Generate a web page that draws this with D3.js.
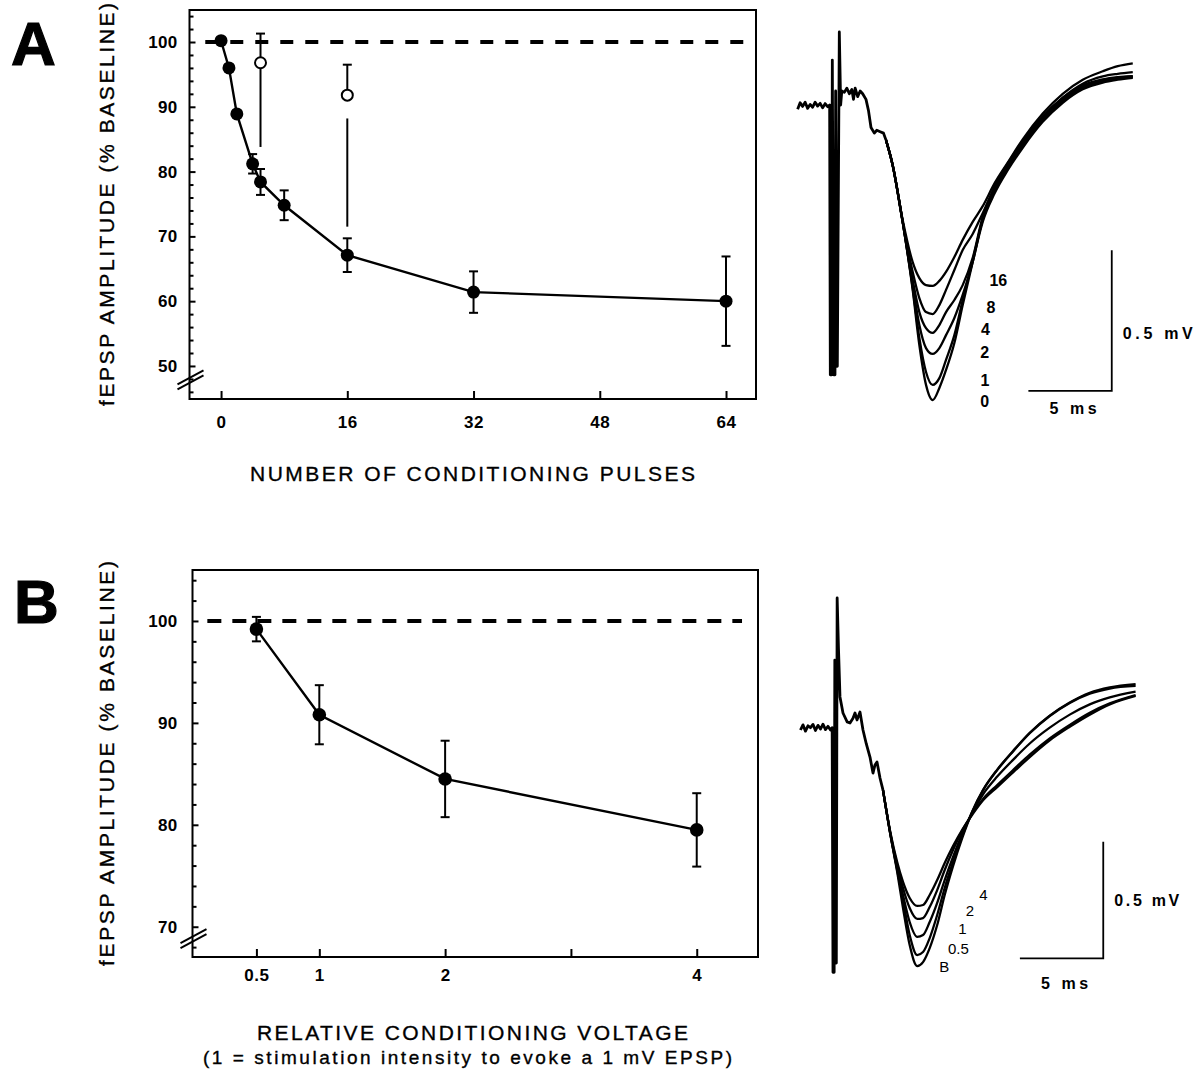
<!DOCTYPE html>
<html><head><meta charset="utf-8">
<script src="https://cdn.jsdelivr.net/npm/d3@7"></script>
<style>
body{margin:0;background:#fff;}
svg{display:block;}
text{font-family:"Liberation Sans", Arial, Helvetica, sans-serif; fill:#000;}
</style></head><body>
<svg id="chart" width="1199" height="1073"></svg>
<script>
// ---------- Panel A data ----------
const pulses     = [0, 1, 2, 4, 5, 8, 16, 32, 64];
const ampA       = [100.2, 96.0, 88.9, 81.2, 78.4, 74.8, 67.1, 61.4, 60.0];
const semA       = [0, 0, 0, 1.5, 2.0, 2.3, 2.6, 3.2, 6.9];
const openPulses = [5, 16];
const openAmp    = [96.8, 91.8];
const openErrUp  = [4.5, 4.7];
const dropTop    = [96.8, 88.2];
const dropBottom = [83.8, 71.5];
const xTicksA    = [0, 16, 32, 48, 64];
const yTicksA    = [50, 60, 70, 80, 90, 100];
const yMinorA    = [46, 48, 52, 54, 56, 58, 62, 64, 66, 68, 72, 74, 76, 78, 82, 84, 86, 88, 92, 94, 96, 98, 102, 104];

// ---------- Panel B data ----------
const voltage    = [0.5, 1, 2, 4];
const ampB       = [99.2, 90.8, 84.5, 79.5];
const semB       = [1.2, 2.9, 3.75, 3.6];
const xTicksB    = [0.5, 1, 2, 3, 4];
const xTickLabB  = ["0.5", "1", "2", "", "4"];
const yTicksB    = [70, 80, 90, 100];
const yMinorB    = [68, 72, 74, 76, 78, 82, 84, 86, 88, 92, 94, 96, 98, 102, 104];

// ---------- Traces A (time ms, voltage mV) ----------
const preA_t = [-2.3, -2.15, -2.0, -1.85, -1.7, -1.55, -1.4, -1.25, -1.1, -0.95, -0.8, -0.65, -0.5, -0.38, -0.34, -0.26, -0.22, -0.14, -0.06, -0.02, 0.02, 0.08, 0.2, 0.28, 0.35, 0.5, 0.65, 0.8, 0.95, 1.05, 1.15, 1.3, 1.45, 1.6, 1.8, 1.95, 2.1, 2.3, 2.45, 2.65, 2.85, 3.0];
const preA_v = [-0.015, 0.008, -0.005, 0.01, -0.012, 0.002, -0.008, 0.01, -0.004, 0.006, -0.01, 0.005, -0.006, 0.0, -0.96, -0.96, 0.16, -0.96, -0.96, 0.05, -0.93, -0.93, 0.26, 0.0, 0.05, 0.045, 0.06, 0.04, 0.055, 0.02, 0.06, 0.03, 0.05, 0.04, 0.02, -0.02, -0.08, -0.10, -0.09, -0.095, -0.10, -0.125];
const traceTimesA = [3.0, 3.4, 4.0, 4.6, 5.0, 5.4, 5.8, 6.2, 6.6, 7.1, 7.6, 8.2, 8.8, 9.5, 10.3, 11.2, 12.4, 13.6, 14.8, 16.0, 16.9, 17.8];
const traceA0  = [-0.125, -0.214, -0.416, -0.658, -0.854, -0.996, -1.050, -1.007, -0.943, -0.847, -0.712, -0.559, -0.416, -0.316, -0.232, -0.152, -0.060, 0.008, 0.056, 0.080, 0.090, 0.097];
const traceA1  = [-0.125, -0.214, -0.416, -0.651, -0.829, -0.950, -0.996, -0.972, -0.907, -0.819, -0.694, -0.552, -0.409, -0.306, -0.222, -0.142, -0.052, 0.014, 0.060, 0.084, 0.093, 0.100];
const traceA2  = [-0.125, -0.214, -0.416, -0.641, -0.783, -0.865, -0.886, -0.865, -0.819, -0.758, -0.676, -0.559, -0.405, -0.300, -0.216, -0.136, -0.046, 0.020, 0.066, 0.088, 0.097, 0.102];
const traceA4  = [-0.125, -0.214, -0.416, -0.623, -0.737, -0.794, -0.811, -0.783, -0.737, -0.694, -0.641, -0.544, -0.398, -0.292, -0.208, -0.128, -0.040, 0.025, 0.070, 0.091, 0.099, 0.103];
const traceA8  = [-0.125, -0.214, -0.416, -0.594, -0.687, -0.737, -0.744, -0.712, -0.658, -0.587, -0.516, -0.459, -0.385, -0.296, -0.214, -0.135, -0.044, 0.026, 0.076, 0.102, 0.111, 0.117];
const traceA16 = [-0.125, -0.214, -0.409, -0.559, -0.616, -0.641, -0.644, -0.626, -0.594, -0.541, -0.480, -0.416, -0.360, -0.280, -0.205, -0.122, -0.030, 0.040, 0.090, 0.120, 0.138, 0.148];
const traceLabelsA = ["16", "8", "4", "2", "1", "0"];
const traceLabelT_A = [9.74, 9.30, 8.96, 8.92, 8.94, 8.92];
const traceLabelV_A = [-0.625, -0.721, -0.799, -0.881, -0.981, -1.053];

// ---------- Traces B ----------
const preB_t = [-2.1, -1.95, -1.8, -1.65, -1.5, -1.35, -1.2, -1.05, -0.9, -0.75, -0.6, -0.45, -0.3, -0.2, -0.15, -0.08, -0.04, 0.0, 0.05, 0.1, 0.18, 0.27, 0.45, 0.7, 0.87, 1.05, 1.17, 1.29, 1.47, 1.65, 1.85, 2.07, 2.25, 2.37, 2.49, 2.67, 2.85];
const preB_v = [0.0, 0.022, -0.005, 0.018, 0.01, 0.024, -0.002, 0.02, 0.004, 0.025, 0.002, 0.016, 0.0, 0.01, -1.04, -1.04, 0.3, -1.0, -1.0, 0.567, 0.35, 0.142, 0.073, 0.035, 0.03, 0.05, 0.073, 0.043, 0.077, 0.0, -0.06, -0.116, -0.185, -0.15, -0.137, -0.206, -0.258];
const traceTimesB = [2.85, 3.3, 3.7, 4.05, 4.45, 4.9, 5.25, 5.65, 6.1, 6.55, 7.05, 7.6, 8.2, 8.85, 9.7, 10.65, 11.65, 12.85, 14.05, 15.25, 16.45, 18.0];
const traceBB  = [-0.258, -0.451, -0.609, -0.764, -0.923, -1.013, -0.996, -0.936, -0.837, -0.708, -0.584, -0.464, -0.352, -0.258, -0.170, -0.090, -0.012, 0.062, 0.118, 0.160, 0.183, 0.197];
const traceB05 = [-0.258, -0.451, -0.601, -0.730, -0.880, -0.966, -0.953, -0.893, -0.794, -0.678, -0.567, -0.455, -0.350, -0.258, -0.172, -0.092, -0.014, 0.060, 0.116, 0.156, 0.178, 0.189];
const traceB1  = [-0.258, -0.451, -0.592, -0.708, -0.824, -0.888, -0.880, -0.824, -0.742, -0.644, -0.545, -0.446, -0.356, -0.276, -0.200, -0.128, -0.058, 0.010, 0.066, 0.110, 0.140, 0.165];
const traceB2  = [-0.258, -0.446, -0.579, -0.678, -0.764, -0.811, -0.807, -0.760, -0.687, -0.601, -0.515, -0.432, -0.360, -0.296, -0.236, -0.172, -0.106, -0.036, 0.022, 0.074, 0.114, 0.150];
const traceB4  = [-0.258, -0.442, -0.567, -0.652, -0.721, -0.755, -0.751, -0.708, -0.644, -0.571, -0.498, -0.428, -0.364, -0.302, -0.245, -0.182, -0.116, -0.044, 0.014, 0.066, 0.110, 0.146];
const traceLabelsB = ["4", "2", "1", "0.5", "B"];
const traceLabelT_B = [8.87, 8.07, 7.62, 7.37, 6.52];
const traceLabelV_B = [-0.708, -0.773, -0.851, -0.937, -1.016];

// ---------- Drawing ----------
const svg = d3.select("#chart");
svg.append("rect").attr("width", 1199).attr("height", 1073).attr("fill", "#fff");

const FONT = '"Liberation Sans", Arial, Helvetica, sans-serif';

function plotPanel(c) {
  const x = d3.scaleLinear().domain(c.xDomain).range([c.left, c.right]);
  const y = d3.scaleLinear().domain(c.yDomain).range([c.bottom, c.top]);
  const g = svg.append("g");

  const ym = g.append("g").attr("transform", `translate(${c.left},0)`)
    .call(d3.axisLeft(y).tickValues(c.yMinor).tickSize(-4).tickFormat(""));
  ym.select(".domain").remove();
  ym.selectAll("line").attr("stroke-width", 2);

  const ya = g.append("g").attr("transform", `translate(${c.left},0)`)
    .call(d3.axisLeft(y).tickValues(c.yTicks).tickSize(-6).tickPadding(c.yPad).tickFormat(d3.format("d")));
  ya.select(".domain").remove();
  ya.selectAll("line").attr("stroke-width", 2);
  ya.selectAll("text").attr("font-family", FONT).attr("font-size", 17).attr("font-weight", "bold").attr("letter-spacing", 0.3);

  const xa = g.append("g").attr("transform", `translate(0,${c.bottom})`)
    .call(d3.axisBottom(x).tickValues(c.xTicks).tickSize(-8).tickPadding(c.xPad)
      .tickFormat((d, i) => c.xTickLabels[i]));
  xa.select(".domain").remove();
  xa.selectAll("line").attr("stroke-width", 2);
  xa.selectAll("text").attr("font-family", FONT).attr("font-size", 17).attr("font-weight", "bold").attr("letter-spacing", 0.5);

  g.append("rect").attr("x", c.left).attr("y", c.top)
    .attr("width", c.right - c.left).attr("height", c.bottom - c.top)
    .attr("fill", "none").attr("stroke", "#000").attr("stroke-width", 2);

  const by = y(c.breakAt);
  [0, -5].forEach(off => {
    g.append("line").attr("x1", c.left - 12).attr("y1", by + 6 + off)
      .attr("x2", c.left + 14).attr("y2", by - 8 + off)
      .attr("stroke", "#000").attr("stroke-width", 2);
  });

  g.append("line").attr("x1", x(c.ref[0])).attr("x2", x(c.ref[1]))
    .attr("y1", y(100)).attr("y2", y(100))
    .attr("stroke", "#000").attr("stroke-width", 4).attr("stroke-dasharray", c.dash);

  const pts = c.xs.map((d, i) => [d, c.ys[i]]);
  g.append("path").datum(pts)
    .attr("d", d3.line().x(d => x(d[0])).y(d => y(d[1])))
    .attr("fill", "none").attr("stroke", "#000").attr("stroke-width", 2.4);

  c.xs.forEach((d, i) => {
    const e = c.errs[i];
    if (!e) return;
    const cx = x(d), y1 = y(c.ys[i] + e), y2 = y(c.ys[i] - e);
    g.append("line").attr("x1", cx).attr("x2", cx).attr("y1", y1).attr("y2", y2).attr("stroke", "#000").attr("stroke-width", 2);
    [y1, y2].forEach(yy => g.append("line").attr("x1", cx - 4.5).attr("x2", cx + 4.5).attr("y1", yy).attr("y2", yy).attr("stroke", "#000").attr("stroke-width", 2));
  });

  if (c.openX) {
    c.openX.forEach((d, i) => {
      const cx = x(d);
      g.append("line").attr("x1", cx).attr("x2", cx).attr("y1", y(dropTop[i])).attr("y2", y(dropBottom[i])).attr("stroke", "#000").attr("stroke-width", 2);
      const yt = y(c.openY[i] + c.openUp[i]);
      g.append("line").attr("x1", cx).attr("x2", cx).attr("y1", y(c.openY[i])).attr("y2", yt).attr("stroke", "#000").attr("stroke-width", 2);
      g.append("line").attr("x1", cx - 4.5).attr("x2", cx + 4.5).attr("y1", yt).attr("y2", yt).attr("stroke", "#000").attr("stroke-width", 2);
      g.append("circle").attr("cx", cx).attr("cy", y(c.openY[i])).attr("r", 5.5)
        .attr("fill", "#fff").attr("stroke", "#000").attr("stroke-width", 2);
    });
  }

  g.selectAll(null).data(pts).enter().append("circle")
    .attr("cx", d => x(d[0])).attr("cy", d => y(d[1])).attr("r", c.r).attr("fill", "#000");

  g.append("text").attr("transform", `translate(${c.yLabX},${(c.top + c.bottom) / 2}) rotate(-90)`)
    .attr("text-anchor", "middle").attr("font-size", 21)
    .attr("stroke", "#000").attr("stroke-width", 0.35)
    .attr("textLength", c.yLabLen).attr("lengthAdjust", "spacing")
    .text("fEPSP AMPLITUDE (% BASELINE)");
}

plotPanel({
  left: 189.5, right: 756, top: 10, bottom: 399,
  xDomain: [-4, 67.8], yDomain: [44.9, 104.94],
  xTicks: xTicksA, xTickLabels: xTicksA.map(String), yTicks: yTicksA, yMinor: yMinorA,
  yPad: 12, xPad: 17, breakAt: 47.3, ref: [-2, 66.6], dash: "13,12",
  xs: pulses, ys: ampA, errs: semA, r: 6.5,
  openX: openPulses, openY: openAmp, openUp: openErrUp,
  yLabX: 114, yLabLen: 403
});
plotPanel({
  left: 192.5, right: 758, top: 570, bottom: 957,
  xDomain: [-0.008, 4.487], yDomain: [67.03, 105.0],
  xTicks: xTicksB, xTickLabels: xTickLabB, yTicks: yTicksB, yMinor: yMinorB,
  yPad: 15, xPad: 12, breakAt: 68.5, ref: [0.11, 4.36], dash: "14,11",
  xs: voltage, ys: ampB, errs: semB, r: 6.8,
  yLabX: 114, yLabLen: 405
});

function title(txt, cx, by, size, len) {
  svg.append("text").attr("x", cx).attr("y", by).attr("text-anchor", "middle")
    .attr("font-size", size).attr("stroke", "#000").attr("stroke-width", 0.35)
    .attr("textLength", len).attr("lengthAdjust", "spacing").text(txt);
}
title("NUMBER OF CONDITIONING PULSES", 472.5, 480.5, 21, 445);
title("RELATIVE CONDITIONING VOLTAGE", 472.5, 1040, 21, 431);
title("(1 = stimulation intensity to evoke a 1 mV EPSP)", 467.5, 1064, 19, 529);

svg.append("text").attr("x", 11).attr("y", 65).attr("font-size", 62).attr("font-weight", "bold")
  .attr("stroke", "#000").attr("stroke-width", 1.2).text("A");
svg.append("text").attr("x", 14).attr("y", 623).attr("font-size", 62).attr("font-weight", "bold")
  .attr("stroke", "#000").attr("stroke-width", 1.2).text("B");

function tracePanel(c) {
  const x = d3.scaleLinear().domain([-2.5, 18]).range(c.xRange);
  const y = d3.scaleLinear().domain([-1.1, 0.3]).range(c.yRange);
  const g = svg.append("g");
  const pre = c.preT.map((t, i) => [t, c.preV[i]]);
  g.append("path").datum(pre).attr("d", d3.line().x(d => x(d[0])).y(d => y(d[1])))
    .attr("fill", "none").attr("stroke", "#000").attr("stroke-width", 2.8).attr("stroke-linejoin", "round");
  const ln = d3.line().curve(d3.curveMonotoneX).x(d => x(d[0])).y(d => y(d[1]));
  c.traces.forEach(tr => {
    const p = c.times.map((t, i) => [t, tr[i]]);
    g.append("path").datum(p).attr("d", ln).attr("fill", "none").attr("stroke", "#000")
      .attr("stroke-width", 2.3).attr("stroke-linejoin", "round");
  });
  c.labels.forEach((l, i) => {
    g.append("text").attr("x", x(c.labT[i])).attr("y", y(c.labV[i])).attr("dy", "0.36em")
      .attr("text-anchor", "middle").attr("font-size", c.labSize).attr("font-weight", c.labWeight).text(l);
  });
  const bx = x(c.bar[0] + 5), bx0 = x(c.bar[0]), by = y(c.bar[1]), by1 = y(c.bar[1] + 0.5);
  g.append("path").attr("d", `M${bx0},${by}H${bx}V${by1}`).attr("fill", "none").attr("stroke", "#000").attr("stroke-width", 1.8);
  g.append("text").attr("x", bx + 11).attr("y", by - 58).attr("dy", "0.36em").attr("font-size", 16).attr("font-weight", "bold")
    .attr("textLength", c.mvLen).attr("lengthAdjust", "spacing").text("0.5 mV");
  g.append("text").attr("x", (bx0 + bx) / 2 + 3).attr("y", by + c.msOff).attr("dy", "0.36em").attr("text-anchor", "middle")
    .attr("font-size", 16).attr("font-weight", "bold").attr("textLength", 47).attr("lengthAdjust", "spacing").text("5 ms");
}

tracePanel({
  xRange: [794.3, 1136.1], yRange: [414.1, 20.7],
  preT: preA_t, preV: preA_v, times: traceTimesA,
  traces: [traceA0, traceA1, traceA2, traceA4, traceA8, traceA16],
  labels: traceLabelsA, labT: traceLabelT_A, labV: traceLabelV_A, labSize: 16, labWeight: "bold",
  bar: [11.54, -1.017], mvLen: 70, msOff: 17
});
tracePanel({
  xRange: [793.8, 1135.6], yRange: [986.3, 660.1],
  preT: preB_t, preV: preB_v, times: traceTimesB,
  traces: [traceBB, traceB05, traceB1, traceB2, traceB4],
  labels: traceLabelsB, labT: traceLabelT_B, labV: traceLabelV_B, labSize: 15, labWeight: "normal",
  bar: [11.06, -0.980], mvLen: 65, msOff: 25
});
</script></body></html>
